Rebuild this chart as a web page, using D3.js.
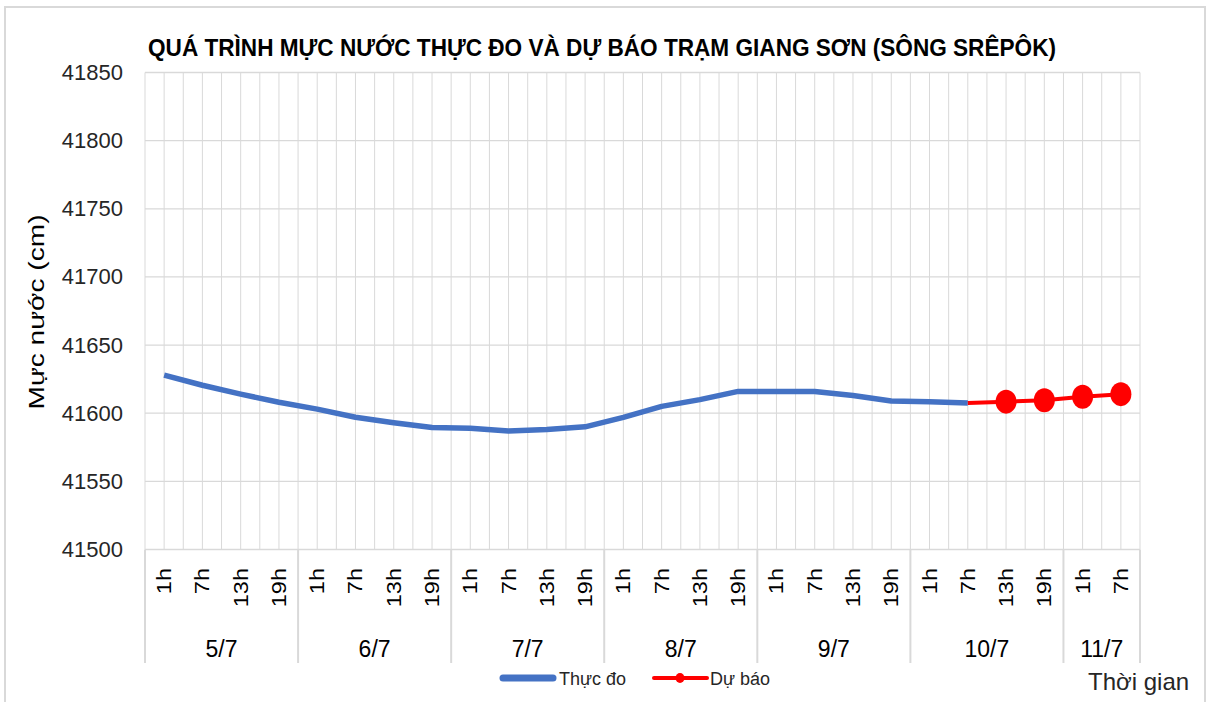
<!DOCTYPE html>
<html>
<head>
<meta charset="utf-8">
<script src="https://cdn.jsdelivr.net/npm/d3@7"></script>
<style>
  body { margin: 0; background: #fff; overflow: hidden; }
  svg { display: block; font-family: "Liberation Sans", Arial, sans-serif; }
</style>
</head>
<body>
<svg id="chart" width="1211" height="702"></svg>
<script>
const title = "QUÁ TRÌNH MỰC NƯỚC THỰC ĐO VÀ DỰ BÁO TRẠM GIANG SƠN (SÔNG SRÊPÔK)";
const hourLabels = [
  "1h", "7h", "13h", "19h", "1h", "7h", "13h", "19h",
  "1h", "7h", "13h", "19h", "1h", "7h", "13h", "19h",
  "1h", "7h", "13h", "19h", "1h", "7h", "13h", "19h",
  "1h", "7h",
];
const dayLabels = ["5/7", "6/7", "7/7", "8/7", "9/7", "10/7", "11/7"];
const dayCounts = [4, 4, 4, 4, 4, 4, 2];
const yTicks = [41500, 41550, 41600, 41650, 41700, 41750, 41800, 41850];

// thực đo (measured)
const observed = [
  41628, 41620.5, 41614, 41608, 41603, 41597, 41593, 41589.5,
  41589, 41587, 41588, 41590, 41597, 41605, 41610, 41616,
  41616, 41616, 41613, 41609, 41608.5, 41607.5,
];
// dự báo (forecast), starts at last measured point
const forecast = [
  null, null, null, null, null, null, null, null,
  null, null, null, null, null, null, null, null,
  null, null, null, null, null, 41607.5, 41608.5, 41609.5,
  41612, 41614,
];

const svg = d3.select("#chart");
const plotLeft = 145, plotRight = 1140, plotTop = 72.5, plotBottom = 549.5;
const grid = "#d9d9d9";

// chart frame
svg.append("rect")
  .attr("x", 5).attr("y", 7).attr("width", 1200).attr("height", 710)
  .attr("fill", "none").attr("stroke", grid).attr("stroke-width", 2);

const x = d3.scaleBand().domain(d3.range(hourLabels.length)).range([plotLeft, plotRight]);
const bw = x.bandwidth();
const cx = (i) => x(i) + bw / 2;
const y = d3.scaleLinear().domain([41500, 41850]).range([plotBottom, plotTop]);

// vertical gridlines (category edges and centres)
const vLines = d3.range(hourLabels.length * 2 + 1).map((k) => plotLeft + (k * bw) / 2);
svg.append("g").selectAll("line").data(vLines).join("line")
  .attr("x1", (d) => d).attr("x2", (d) => d)
  .attr("y1", plotTop).attr("y2", plotBottom)
  .attr("stroke", grid).attr("stroke-width", 1);

// horizontal gridlines
svg.append("g").selectAll("line").data(yTicks).join("line")
  .attr("x1", plotLeft).attr("x2", plotRight)
  .attr("y1", (d) => y(d)).attr("y2", (d) => y(d))
  .attr("stroke", grid).attr("stroke-width", 1.3);

// y axis labels
const yAxis = svg.append("g")
  .attr("transform", `translate(${plotLeft},0)`)
  .call(d3.axisLeft(y).tickValues(yTicks).tickSize(0).tickPadding(22).tickFormat(d3.format("d")));
yAxis.select(".domain").remove();
yAxis.selectAll("text")
  .attr("font-family", "Liberation Sans, Arial, sans-serif")
  .attr("font-size", 22).attr("fill", "#262626");

svg.append("text")
  .attr("transform", "translate(44,312) rotate(-90)")
  .attr("text-anchor", "middle")
  .attr("font-size", 22).attr("fill", "#000")
  .attr("textLength", 195).attr("lengthAdjust", "spacingAndGlyphs")
  .text("Mực nước (cm)");

// x axis: hour labels
svg.append("g").selectAll("text").data(hourLabels).join("text")
  .attr("transform", (d, i) => `translate(${cx(i) + 7},568) rotate(-90) scale(1.12,1)`)
  .attr("text-anchor", "end")
  .attr("font-size", 21).attr("fill", "#000")
  .text((d) => d);

// day groups
const starts = [0];
dayCounts.forEach((c, i) => starts.push(starts[i] + c));
svg.append("g").selectAll("line").data(starts).join("line")
  .attr("x1", (d) => plotLeft + d * bw).attr("x2", (d) => plotLeft + d * bw)
  .attr("y1", plotBottom).attr("y2", 663)
  .attr("stroke", grid).attr("stroke-width", 2);
svg.append("g").selectAll("text").data(dayLabels).join("text")
  .attr("x", (d, i) => plotLeft + ((starts[i] + starts[i + 1]) / 2) * bw)
  .attr("y", 657)
  .attr("text-anchor", "middle")
  .attr("font-size", 23).attr("fill", "#000")
  .text((d) => d);

// series
const lineGen = d3.line()
  .defined((d) => d != null)
  .x((d, i) => cx(i))
  .y((d) => y(d));

svg.append("path")
  .datum(observed)
  .attr("fill", "none")
  .attr("stroke", "#4472C4")
  .attr("stroke-width", 5.5)
  .attr("stroke-linejoin", "round")
  .attr("d", lineGen);

svg.append("path")
  .datum(forecast)
  .attr("fill", "none")
  .attr("stroke", "#FF0000")
  .attr("stroke-width", 4)
  .attr("stroke-linejoin", "round")
  .attr("d", lineGen);

const firstFc = forecast.findIndex((d) => d != null);
svg.append("g").selectAll("ellipse")
  .data(forecast.map((v, i) => ({ v, i })).filter((d) => d.v != null && d.i > firstFc))
  .join("ellipse")
  .attr("cx", (d) => cx(d.i))
  .attr("cy", (d) => y(d.v))
  .attr("rx", 10.5).attr("ry", 12)
  .attr("fill", "#FF0000");

// title
svg.append("text")
  .attr("x", 602).attr("y", 56)
  .attr("text-anchor", "middle")
  .attr("font-size", 23).attr("font-weight", "bold").attr("fill", "#000")
  .attr("textLength", 908).attr("lengthAdjust", "spacingAndGlyphs")
  .text(title);

// legend
const lg = svg.append("g");
lg.append("line")
  .attr("x1", 503).attr("x2", 553).attr("y1", 678).attr("y2", 678)
  .attr("stroke", "#4472C4").attr("stroke-width", 7).attr("stroke-linecap", "round");
lg.append("text").attr("x", 559).attr("y", 685)
  .attr("font-size", 18).attr("fill", "#262626").text("Thực đo");
lg.append("line")
  .attr("x1", 654).attr("x2", 707).attr("y1", 678).attr("y2", 678)
  .attr("stroke", "#FF0000").attr("stroke-width", 4).attr("stroke-linecap", "round");
lg.append("ellipse").attr("cx", 680).attr("cy", 678).attr("rx", 4.5).attr("ry", 5)
  .attr("fill", "#FF0000");
lg.append("text").attr("x", 710).attr("y", 685)
  .attr("font-size", 18).attr("fill", "#262626").text("Dự báo");

svg.append("text")
  .attr("x", 1088).attr("y", 690)
  .attr("font-size", 24).attr("fill", "#262626")
  .text("Thời gian");
</script>
</body>
</html>
